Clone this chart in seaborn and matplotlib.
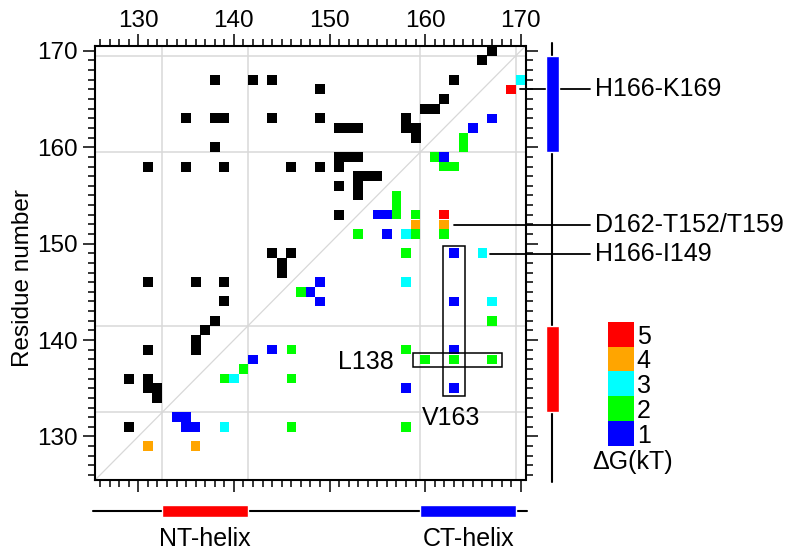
import matplotlib
matplotlib.use("Agg")
import matplotlib.pyplot as plt
import numpy as np
import pandas as pd
import seaborn as sns
from matplotlib.colors import ListedColormap, BoundaryNorm
from matplotlib.cm import ScalarMappable
from matplotlib.ticker import MultipleLocator
from matplotlib.patches import Rectangle

# ---------------- data ----------------
# native contacts (black squares, upper triangle)
contact_x = [138, 142, 144, 149, 135, 138, 139, 144, 149, 138, 131, 135, 139, 146, 149,
             167, 166, 163, 162, 160, 161, 151, 152, 153, 158, 158, 159, 159,
             151, 152, 153, 151, 153, 154, 155, 153, 153, 151, 151,
             144, 146, 145, 145, 131, 136, 139, 139, 138, 137, 136, 136, 131,
             129, 131, 131, 132, 132, 129]
contact_y = [167, 167, 167, 166, 163, 163, 163, 163, 163, 160, 158, 158, 158, 158, 158,
             170, 169, 167, 165, 164, 164, 162, 162, 162, 163, 162, 162, 161,
             159, 159, 159, 158, 157, 157, 157, 156, 155, 156, 153,
             149, 149, 148, 147, 146, 146, 146, 144, 142, 141, 140, 139, 139,
             136, 136, 135, 135, 134, 131]

# energetic contacts (coloured squares, lower triangle)
dg_x = [170, 169, 167, 165, 164, 164, 161, 162, 162, 163,
        157, 157, 157, 155, 156, 159, 159, 159, 158, 162, 162, 162, 153, 156,
        158, 163, 166, 147, 148, 149, 149, 158, 163, 167, 167,
        144, 146, 142, 141, 139, 140, 146, 158, 163, 160, 163, 167,
        158, 163, 158, 146, 139, 134, 135, 135, 136, 131, 136]
dg_y = [167, 166, 163, 162, 161, 160, 159, 159, 158, 158,
        155, 154, 153, 153, 153, 153, 152, 151, 151, 153, 152, 151, 151, 151,
        149, 149, 149, 145, 145, 146, 144, 146, 144, 144, 142,
        139, 139, 138, 137, 136, 136, 136, 139, 139, 138, 138, 138,
        135, 135, 131, 131, 131, 132, 132, 131, 131, 129, 129]
dg_val = [3, 5, 1, 1, 2, 2, 2, 1, 2, 2,
          2, 2, 2, 1, 1, 2, 4, 2, 3, 5, 4, 2, 2, 1,
          2, 1, 3, 2, 1, 1, 1, 3, 1, 3, 2,
          1, 2, 1, 2, 2, 3, 2, 2, 1, 2, 2, 2,
          1, 1, 2, 2, 3, 1, 1, 1, 1, 4, 4]

dg_levels = [1, 2, 3, 4, 5]
dg_colors = ["#0000ff", "#00ff00", "#00ffff", "#ffa500", "#ff0000"]
axis_ticks = [130, 140, 150, 160, 170]

helix_names = ["NT-helix", "CT-helix"]
helix_start = [132.5, 159.5]
helix_end = [141.5, 169.5]
helix_colors = ["#ff0000", "#0000ff"]

annot_labels = ["H166-K169", "D162-T152/T159", "H166-I149"]
annot_x0 = [169.9, 163.0, 166.8]
annot_y = [166.0, 151.95, 148.9]

# ---------------- style ----------------
sns.set_theme(style="ticks")
plt.rcParams["font.family"] = ["Liberation Sans", "DejaVu Sans"]
plt.rcParams["text.color"] = "black"
plt.rcParams["axes.labelcolor"] = "black"

W, H = 800, 556
fig = plt.figure(figsize=(8, 5.56), dpi=100)


def box(l, t, r, b):
    return [l / W, 1 - b / H, (r - l) / W, (b - t) / H]


ax = fig.add_axes(box(95.3, 46, 525.5, 479.8))
lo, hi = 125.5, 170.5
grid_c = "#d8d8d8"
for g in helix_start + helix_end:
    ax.axvline(g, color=grid_c, lw=1.1, zorder=0)
    ax.axhline(g, color=grid_c, lw=1.1, zorder=0)
ax.plot([lo, hi], [lo, hi], color=grid_c, lw=0.9, zorder=0)

sns.scatterplot(x=contact_x, y=contact_y, color="black", marker="s", s=47,
                linewidth=0, ax=ax, zorder=3)
df = pd.DataFrame({"x": dg_x, "y": dg_y, "dG": dg_val})
sns.scatterplot(data=df, x="x", y="y", hue="dG",
                palette=dict(zip(dg_levels, dg_colors)), marker="s", s=47,
                linewidth=0, legend=False, ax=ax, zorder=3)

# highlight boxes
ax.add_patch(Rectangle((161.88, 134.2), 2.27, 15.55, fill=False, ec="black",
                       lw=1.1, zorder=4))
ax.add_patch(Rectangle((158.7, 137.23), 9.31, 1.45, fill=False, ec="black",
                       lw=1.1, zorder=4))
ax.text(156.7, 137.7, "L138", ha="right", va="center", fontsize=18)
ax.text(162.73, 131.9, "V163", ha="center", va="center", fontsize=18)

ax.set_xlim(lo, hi)
ax.set_ylim(lo, hi)
ax.set_xticks(axis_ticks)
ax.set_yticks(axis_ticks)
ax.xaxis.set_minor_locator(MultipleLocator(1))
ax.yaxis.set_minor_locator(MultipleLocator(1))
ax.tick_params(which="both", direction="out", top=True, bottom=True, left=True,
               right=True, labeltop=True, labelbottom=False, labelleft=True,
               labelright=False, width=1.1, color="black", labelcolor="black")
ax.tick_params(which="major", length=8.4, labelsize=17.5)
ax.tick_params(which="minor", length=4.8)
ax.tick_params(axis="x", which="major", pad=1.5)
ax.tick_params(axis="y", which="major", pad=4)
for sp in ax.spines.values():
    sp.set_visible(True)
    sp.set_linewidth(1.5)
    sp.set_color("black")
ax.set_xlabel("")
ax.set_ylabel("Residue number", fontsize=17.5)
ax.yaxis.set_label_coords(-0.142, 0.465)

# annotations on the right
for lab, x0, y in zip(annot_labels, annot_x0, annot_y):
    ax.plot([x0, 177.25], [y, y], color="black", lw=1.3, clip_on=False, zorder=5)
    ax.text(177.8, y, lab, ha="left", va="center", fontsize=18, clip_on=False)

# right helix bar
ax_r = fig.add_axes(box(539, 46, 565, 479.8))
ax_r.set_xlim(-1, 1)
ax_r.set_ylim(lo, hi)
ax_r.axis("off")
ax_r.plot([0, 0], [125.3, 170.8], color="black", lw=1.5, clip_on=False, zorder=1)
ax_r.bar([0, 0], np.array(helix_end) - np.array(helix_start), bottom=helix_start,
         width=1.0, color=helix_colors, zorder=2)

# bottom helix bar
ax_b = fig.add_axes(box(95.3, 498.7, 525.5, 522.7))
ax_b.set_xlim(lo, hi)
ax_b.set_ylim(-1, 1)
ax_b.axis("off")
ax_b.plot([125.27, 170.66], [0, 0], color="black", lw=1.5, clip_on=False, zorder=1)
ax_b.barh([0, 0], np.array(helix_end) - np.array(helix_start), left=helix_start,
          height=1.0, color=helix_colors, zorder=2)
for name, s0, e0 in zip(helix_names, helix_start, helix_end):
    ax_b.text((s0 + e0) / 2, -2.92, name, ha="center", va="baseline",
              fontsize=18, clip_on=False)

# colour key
cax = fig.add_axes(box(608, 321.7, 634, 446))
cmap = ListedColormap(dg_colors)
norm = BoundaryNorm([0.5, 1.5, 2.5, 3.5, 4.5, 5.5], cmap.N)
cb = fig.colorbar(ScalarMappable(norm=norm, cmap=cmap), cax=cax, ticks=dg_levels)
cb.minorticks_off()
cb.outline.set_visible(False)
cax.tick_params(which="both", length=0, width=0, pad=2, labelsize=18,
                labelcolor="black")
for sp in cax.spines.values():
    sp.set_visible(False)
fig.text(633 / W, 1 - 462 / H, "ΔG(kT)", ha="center", va="center", fontsize=18)

fig.savefig("out.png", dpi=100)
